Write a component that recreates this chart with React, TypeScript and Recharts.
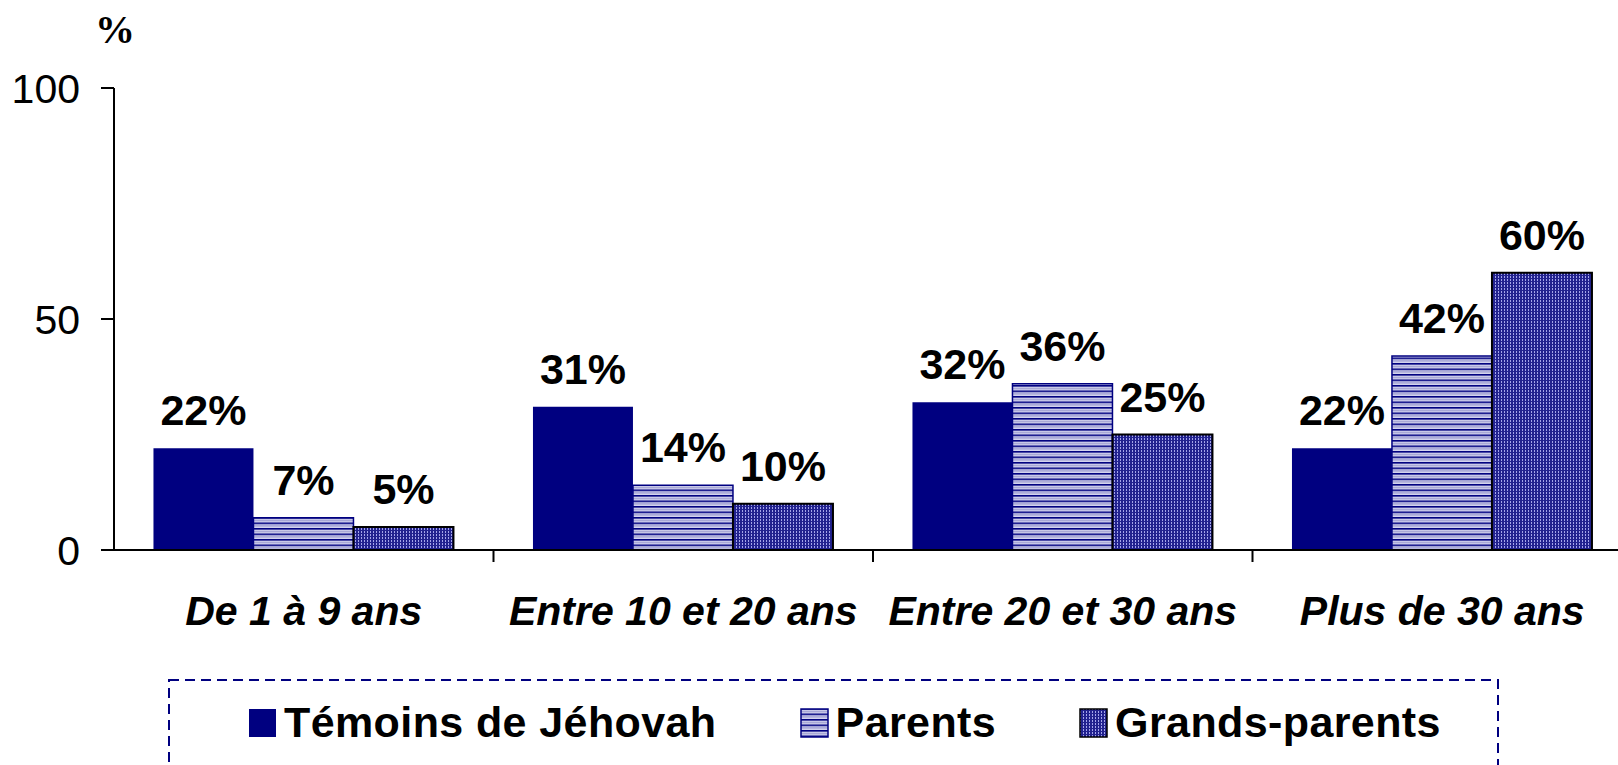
import { BarChart, Bar, XAxis, YAxis, LabelList, Legend } from "recharts";

const CATEGORIES = ["De 1 à 9 ans", "Entre 10 et 20 ans", "Entre 20 et 30 ans", "Plus de 30 ans"];
const TEMOINS = [22, 31, 32, 22];
const PARENTS = [7, 14, 36, 42];
const GRANDS_PARENTS = [5, 10, 25, 60];
const Y_TICKS = [0, 50, 100];

const SERIES = [
  { key: "temoins", name: "Témoins de Jéhovah", fill: "#000080", stroke: "#000080", strokeWidth: 0 },
  { key: "parents", name: "Parents", fill: "url(#stripes)", stroke: "#000080", strokeWidth: 1.5 },
  { key: "grands", name: "Grands-parents", fill: "url(#dots)", stroke: "#000000", strokeWidth: 2 },
];

const data = CATEGORIES.map((name, i) => ({
  name,
  temoins: TEMOINS[i],
  parents: PARENTS[i],
  grands: GRANDS_PARENTS[i],
}));

const CHART_W = 1640;
const CHART_H = 765;
const LEFT = 114;
const RIGHT = 8;
const TOP = 88;
const PLOT_H = 462;
const PLOT_W = CHART_W - LEFT - RIGHT;
const BAND = PLOT_W / CATEGORIES.length;
const X_TICK_SIZE = 12;
const X_TICK_MARGIN = 34;
const FONT = "'Liberation Sans', Arial, sans-serif";

function CategoryTick(props: any) {
  const { x, y, payload } = props;
  const axisY = y - X_TICK_SIZE - X_TICK_MARGIN;
  return (
    <g>
      <line x1={x + BAND / 2} x2={x + BAND / 2} y1={axisY} y2={axisY + X_TICK_SIZE} stroke="#000" strokeWidth={2} />
      <text x={x} y={y} dy="0.71em" textAnchor="middle" fontFamily={FONT} fontSize={41} fontWeight="bold" fontStyle="italic" fill="#000">
        {payload.value}
      </text>
    </g>
  );
}

function LegendBox() {
  return (
    <div style={{ position: "relative", width: 1331, height: 110 }}>
      <svg width={1331} height={110} style={{ position: "absolute", left: 0, top: 0 }}>
        <rect x={1} y={1} width={1329} height={200} fill="none" stroke="#000080" strokeWidth={2} strokeDasharray="10 6" />
      </svg>
      <div style={{ position: "absolute", left: 80, top: 19, display: "flex", alignItems: "center", whiteSpace: "nowrap", fontFamily: FONT, fontWeight: "bold", fontSize: 43, letterSpacing: 0.4, color: "#000" }}>
        {SERIES.map((s) => (
          <div key={s.key} style={{ display: "flex", alignItems: "center", marginRight: 83, flexShrink: 0 }}>
            <svg width={29} height={30} style={{ marginRight: 7 }}>
              <rect x={1} y={1} width={27} height={28} fill={s.fill} stroke={s.stroke} strokeWidth={s.strokeWidth ? 1.5 : 0} />
            </svg>
            <span>{s.name}</span>
          </div>
        ))}
      </div>
    </div>
  );
}

export default function App() {
  return (
    <div style={{ position: "absolute", left: 0, top: 0, width: 1618, height: 765, overflow: "hidden", background: "#fff" }}>
      <div style={{ position: "absolute", left: 95, top: 6, fontFamily: "'Liberation Serif', 'Times New Roman', serif", fontWeight: "bold", fontSize: 40 }}>%</div>
      <BarChart
        width={CHART_W}
        height={CHART_H}
        data={data}
        margin={{ top: TOP, right: RIGHT, left: 0, bottom: 0 }}
        barCategoryGap="10.4%"
        barGap={0}
      >
        <defs>
          <pattern id="stripes" patternUnits="userSpaceOnUse" width={4} height={5.5}>
            <rect x={0} y={0} width={4} height={5.5} fill="#d4d4ef" />
            <rect x={0} y={0} width={4} height={1.6} fill="#000080" />
            <rect x={0} y={3} width={4} height={1} fill="#8c8cc8" />
          </pattern>
          <pattern id="dots" patternUnits="userSpaceOnUse" width={3} height={3}>
            <rect x={0} y={0} width={3} height={3} fill="#22228f" />
            <rect x={1} y={0} width={1} height={2} fill="#a4a4ea" />
          </pattern>
        </defs>
        <XAxis
          dataKey="name"
          height={CHART_H - TOP - PLOT_H}
          axisLine={{ stroke: "#000", strokeWidth: 2 }}
          tickLine={false}
          tickSize={X_TICK_SIZE}
          tickMargin={X_TICK_MARGIN}
          tick={<CategoryTick />}
          interval={0}
        />
        <YAxis
          width={LEFT}
          domain={[0, 100]}
          ticks={Y_TICKS}
          axisLine={{ stroke: "#000", strokeWidth: 2 }}
          tickLine={{ stroke: "#000", strokeWidth: 2 }}
          tickSize={13}
          tickMargin={21}
          tick={{ fill: "#000", fontFamily: FONT, fontSize: 41 }}
        />
        <Legend
          layout="horizontal"
          verticalAlign="middle"
          align="center"
          wrapperStyle={{ top: 679, left: 168, width: 1331, height: 110 }}
          content={() => <LegendBox />}
        />
        {SERIES.map((s) => (
          <Bar
            key={s.key}
            dataKey={s.key}
            name={s.name}
            fill={s.fill}
            stroke={s.stroke}
            strokeWidth={s.strokeWidth}
            isAnimationActive={false}
          >
            <LabelList
              dataKey={s.key}
              position="top"
              offset={23}
              formatter={(v: any) => `${v}%`}
              style={{ fill: "#000", fontFamily: FONT, fontSize: 43, fontWeight: "bold" }}
            />
          </Bar>
        ))}
      </BarChart>
    </div>
  );
}
